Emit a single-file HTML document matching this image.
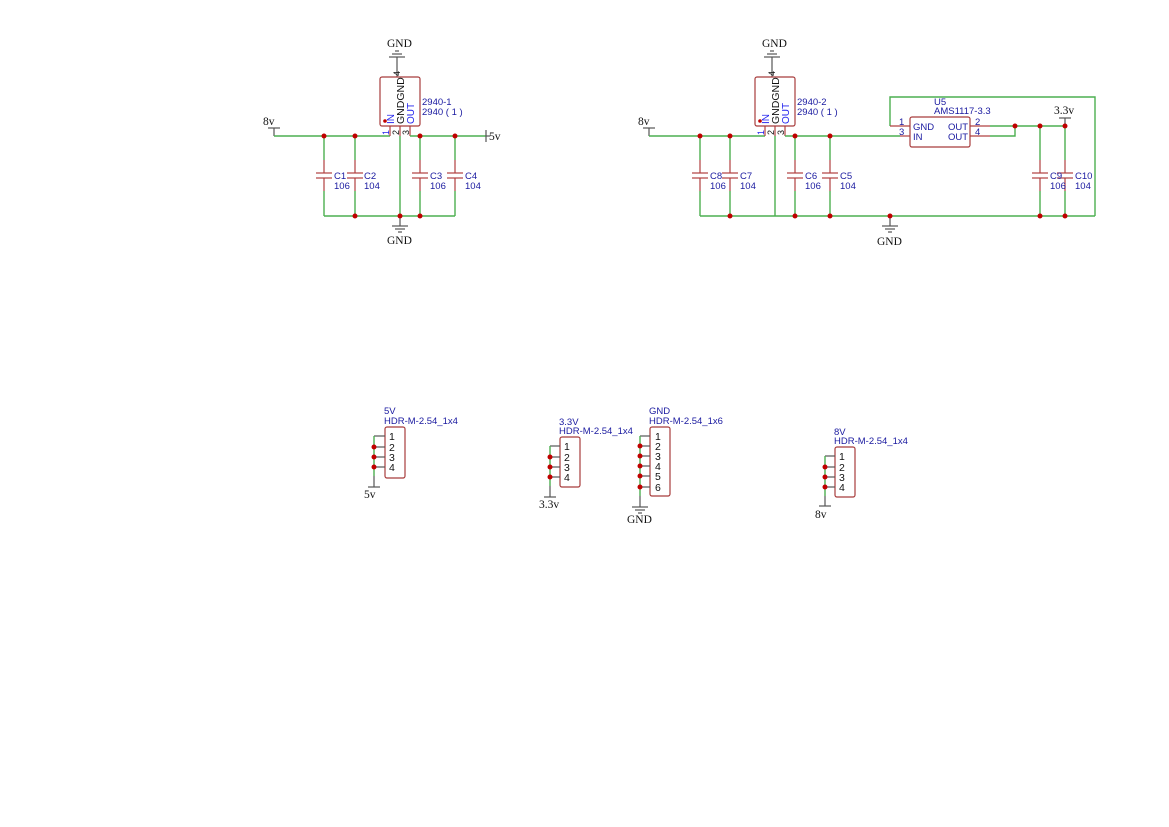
<!DOCTYPE html>
<html><head><meta charset="utf-8"><style>
html,body{margin:0;padding:0;background:#fff;}
svg{display:block}
.w{stroke:#4caf50;stroke-width:1.4;fill:none}
.r{stroke:#b04040;stroke-width:1.2;fill:none}
.k{stroke:#555;stroke-width:1.2;fill:none}
.box{stroke:#a83c3c;stroke-width:1.2;fill:#fff;rx:2}
.b{fill:#1a1aa0;font-family:"Liberation Sans",sans-serif;font-size:9.5px}
.bl{fill:#2222ee;font-family:"Liberation Sans",sans-serif;font-size:10px}
.t{fill:#111;font-family:"Liberation Serif",serif;font-size:11.5px}
.n{fill:#111;font-family:"Liberation Sans",sans-serif;font-size:10.5px}
.d{fill:#c00000}
</style></head><body>
<svg width="1169" height="827" viewBox="0 0 1169 827" xmlns="http://www.w3.org/2000/svg">
<defs>
<g id="cap">
<line class="w" x1="0" y1="136" x2="0" y2="160"/>
<line class="r" x1="0" y1="160" x2="0" y2="173"/>
<line class="r" x1="-8" y1="173" x2="8" y2="173"/>
<line class="r" x1="-8" y1="178" x2="8" y2="178"/>
<line class="r" x1="0" y1="178" x2="0" y2="191"/>
<line class="w" x1="0" y1="191" x2="0" y2="216"/>
</g>
<g id="gnd">
<line class="k" x1="-8" y1="0" x2="8" y2="0"/>
<line class="k" x1="-5" y1="3" x2="5" y2="3"/>
<line class="k" x1="-2" y1="6" x2="2" y2="6"/>
</g>
</defs>

<!-- ===== LEFT REGULATOR ===== -->
<text class="t" x="263" y="125">8v</text>
<line class="k" x1="268" y1="128" x2="280" y2="128"/>
<line class="k" x1="274" y1="128" x2="274" y2="136"/>
<polyline class="w" points="274,136 390,136"/>
<line class="r" x1="390" y1="126" x2="390" y2="136"/>
<line class="r" x1="400" y1="126" x2="400" y2="136"/>
<line class="w" x1="400" y1="136" x2="400" y2="216"/>
<line class="r" x1="410" y1="126" x2="410" y2="136"/>
<polyline class="w" points="410,136 486,136"/>
<line class="k" x1="486" y1="130" x2="486" y2="142"/>
<line class="k" x1="486" y1="136" x2="490" y2="136"/>
<text class="t" x="489" y="140">5v</text>
<line class="w" x1="324" y1="216" x2="455" y2="216"/>
<use href="#cap" x="324"/><use href="#cap" x="355"/><use href="#cap" x="420"/><use href="#cap" x="455"/>
<text class="b" x="334" y="179">C1</text><text class="b" x="334" y="189">106</text>
<text class="b" x="364" y="179">C2</text><text class="b" x="364" y="189">104</text>
<text class="b" x="430" y="179">C3</text><text class="b" x="430" y="189">106</text>
<text class="b" x="465" y="179">C4</text><text class="b" x="465" y="189">104</text>
<line class="k" x1="400" y1="216" x2="400" y2="226"/>
<use href="#gnd" x="400" y="226"/>
<text class="t" x="387" y="244">GND</text>
<text class="t" x="387" y="47">GND</text>
<g transform="translate(397,57) scale(1,-1)"><use href="#gnd"/></g>
<line class="k" x1="397" y1="57" x2="397" y2="77"/>
<rect class="box" x="380" y="77" width="40" height="49"/>
<circle class="d" cx="385" cy="121" r="1.8"/>
<text class="n" transform="translate(400,76) rotate(-90)" style="font-size:9px">4</text>
<text class="bl" transform="translate(394,124) rotate(-90)">IN</text>
<text class="n" transform="translate(404,124) rotate(-90)">GNDGND</text>
<text class="bl" transform="translate(414,124) rotate(-90)">OUT</text>
<text class="bl" transform="translate(389,135) rotate(-90)" style="font-size:9px">1</text>
<text class="n" transform="translate(399,135) rotate(-90)" style="font-size:9px">2</text>
<text class="n" transform="translate(409,135) rotate(-90)" style="font-size:9px">3</text>
<text class="b" x="422" y="105">2940-1</text>
<text class="b" x="422" y="115">2940 ( 1 )</text>
<g class="d"><circle cx="324" cy="136" r="2.5"/><circle cx="355" cy="136" r="2.5"/><circle cx="420" cy="136" r="2.5"/><circle cx="455" cy="136" r="2.5"/>
<circle cx="355" cy="216" r="2.5"/><circle cx="400" cy="216" r="2.5"/><circle cx="420" cy="216" r="2.5"/></g>

<!-- ===== RIGHT REGULATOR ===== -->
<text class="t" x="638" y="125">8v</text>
<line class="k" x1="643" y1="128" x2="655" y2="128"/>
<line class="k" x1="649" y1="128" x2="649" y2="136"/>
<polyline class="w" points="649,136 765,136"/>
<line class="r" x1="765" y1="126" x2="765" y2="136"/>
<line class="r" x1="775" y1="126" x2="775" y2="136"/>
<line class="w" x1="775" y1="136" x2="775" y2="216"/>
<line class="r" x1="785" y1="126" x2="785" y2="136"/>
<polyline class="w" points="785,136 900,136"/>
<line class="w" x1="700" y1="216" x2="1095" y2="216"/>
<use href="#cap" x="700"/><use href="#cap" x="730"/><use href="#cap" x="795"/><use href="#cap" x="830"/><use href="#cap" x="1040"/><use href="#cap" x="1065"/>
<line class="w" x1="1040" y1="126" x2="1040" y2="136"/>
<line class="w" x1="1065" y1="126" x2="1065" y2="136"/>
<text class="b" x="710" y="179">C8</text><text class="b" x="710" y="189">106</text>
<text class="b" x="740" y="179">C7</text><text class="b" x="740" y="189">104</text>
<text class="b" x="805" y="179">C6</text><text class="b" x="805" y="189">106</text>
<text class="b" x="840" y="179">C5</text><text class="b" x="840" y="189">104</text>
<text class="b" x="1050" y="179">C9</text><text class="b" x="1050" y="189">106</text>
<text class="b" x="1075" y="179">C10</text><text class="b" x="1075" y="189">104</text>
<line class="k" x1="890" y1="216" x2="890" y2="226"/>
<use href="#gnd" x="890" y="226"/>
<text class="t" x="877" y="245">GND</text>
<text class="t" x="762" y="47">GND</text>
<g transform="translate(772,57) scale(1,-1)"><use href="#gnd"/></g>
<line class="k" x1="772" y1="57" x2="772" y2="77"/>
<rect class="box" x="755" y="77" width="40" height="49"/>
<circle class="d" cx="760" cy="121" r="1.8"/>
<text class="n" transform="translate(775,76) rotate(-90)" style="font-size:9px">4</text>
<text class="bl" transform="translate(769,124) rotate(-90)">IN</text>
<text class="n" transform="translate(779,124) rotate(-90)">GNDGND</text>
<text class="bl" transform="translate(789,124) rotate(-90)">OUT</text>
<text class="bl" transform="translate(764,135) rotate(-90)" style="font-size:9px">1</text>
<text class="n" transform="translate(774,135) rotate(-90)" style="font-size:9px">2</text>
<text class="n" transform="translate(784,135) rotate(-90)" style="font-size:9px">3</text>
<text class="b" x="797" y="105">2940-2</text>
<text class="b" x="797" y="115">2940 ( 1 )</text>
<!-- U5 -->
<polyline class="w" points="890,126 890,97 1095,97 1095,216"/>
<line class="r" x1="890" y1="126" x2="910" y2="126"/>
<line class="r" x1="900" y1="136" x2="910" y2="136"/>
<line class="r" x1="970" y1="126" x2="990" y2="126"/>
<line class="r" x1="970" y1="136" x2="990" y2="136"/>
<polyline class="w" points="990,126 1065,126"/>
<polyline class="w" points="990,136 1015,136 1015,126"/>
<rect class="box" x="910" y="117" width="60" height="30"/>
<text class="b" x="934" y="105">U5</text>
<text class="b" x="934" y="114">AMS1117-3.3</text>
<text class="b" x="899" y="125">1</text><text class="b" x="899" y="135">3</text>
<text class="b" x="913" y="130">GND</text><text class="b" x="913" y="140">IN</text>
<text class="b" x="948" y="130">OUT</text><text class="b" x="948" y="140">OUT</text>
<text class="b" x="975" y="125">2</text><text class="b" x="975" y="135">4</text>
<text class="t" x="1054" y="114">3.3v</text>
<line class="k" x1="1059" y1="118" x2="1071" y2="118"/>
<line class="k" x1="1065" y1="118" x2="1065" y2="126"/>
<g class="d"><circle cx="700" cy="136" r="2.5"/><circle cx="730" cy="136" r="2.5"/><circle cx="795" cy="136" r="2.5"/><circle cx="830" cy="136" r="2.5"/>
<circle cx="1015" cy="126" r="2.5"/><circle cx="1040" cy="126" r="2.5"/><circle cx="1065" cy="126" r="2.5"/>
<circle cx="730" cy="216" r="2.5"/><circle cx="795" cy="216" r="2.5"/><circle cx="830" cy="216" r="2.5"/><circle cx="890" cy="216" r="2.5"/><circle cx="1040" cy="216" r="2.5"/><circle cx="1065" cy="216" r="2.5"/></g>

<!-- ===== HEADERS ===== -->
<text class="b" x="384" y="414">5V</text><text class="b" x="384" y="424">HDR-M-2.54_1x4</text>
<rect class="box" x="385" y="427" width="20" height="51"/>
<g class="k"><line x1="374" y1="436" x2="385" y2="436"/><line x1="374" y1="447" x2="385" y2="447"/><line x1="374" y1="457" x2="385" y2="457"/><line x1="374" y1="467" x2="385" y2="467"/></g>
<line class="w" x1="374" y1="436" x2="374" y2="476"/><line class="k" x1="374" y1="476" x2="374" y2="487"/>
<line class="k" x1="368" y1="487" x2="380" y2="487"/>
<text class="t" x="364" y="498">5v</text>
<g class="n"><text x="389" y="440">1</text><text x="389" y="451">2</text><text x="389" y="461">3</text><text x="389" y="471">4</text></g>
<g class="d"><circle cx="374" cy="447" r="2.5"/><circle cx="374" cy="457" r="2.5"/><circle cx="374" cy="467" r="2.5"/></g>

<text class="b" x="559" y="425">3.3V</text><text class="b" x="559" y="434">HDR-M-2.54_1x4</text>
<rect class="box" x="560" y="437" width="20" height="50"/>
<g class="k"><line x1="550" y1="446" x2="560" y2="446"/><line x1="550" y1="457" x2="560" y2="457"/><line x1="550" y1="467" x2="560" y2="467"/><line x1="550" y1="477" x2="560" y2="477"/></g>
<line class="w" x1="550" y1="446" x2="550" y2="486"/><line class="k" x1="550" y1="486" x2="550" y2="497"/>
<line class="k" x1="544" y1="497" x2="556" y2="497"/>
<text class="t" x="539" y="508">3.3v</text>
<g class="n"><text x="564" y="450">1</text><text x="564" y="461">2</text><text x="564" y="471">3</text><text x="564" y="481">4</text></g>
<g class="d"><circle cx="550" cy="457" r="2.5"/><circle cx="550" cy="467" r="2.5"/><circle cx="550" cy="477" r="2.5"/></g>

<text class="b" x="649" y="414">GND</text><text class="b" x="649" y="424">HDR-M-2.54_1x6</text>
<rect class="box" x="650" y="427" width="20" height="69"/>
<g class="k"><line x1="640" y1="436" x2="650" y2="436"/><line x1="640" y1="446" x2="650" y2="446"/><line x1="640" y1="456" x2="650" y2="456"/><line x1="640" y1="466" x2="650" y2="466"/><line x1="640" y1="476" x2="650" y2="476"/><line x1="640" y1="487" x2="650" y2="487"/></g>
<line class="w" x1="640" y1="436" x2="640" y2="496"/><line class="k" x1="640" y1="496" x2="640" y2="507"/>
<use href="#gnd" x="640" y="507"/>
<text class="t" x="627" y="523">GND</text>
<g class="n"><text x="655" y="440">1</text><text x="655" y="450">2</text><text x="655" y="460">3</text><text x="655" y="470">4</text><text x="655" y="480">5</text><text x="655" y="491">6</text></g>
<g class="d"><circle cx="640" cy="446" r="2.5"/><circle cx="640" cy="456" r="2.5"/><circle cx="640" cy="466" r="2.5"/><circle cx="640" cy="476" r="2.5"/><circle cx="640" cy="487" r="2.5"/></g>

<text class="b" x="834" y="435">8V</text><text class="b" x="834" y="444">HDR-M-2.54_1x4</text>
<rect class="box" x="835" y="447" width="20" height="50"/>
<g class="k"><line x1="825" y1="456" x2="835" y2="456"/><line x1="825" y1="467" x2="835" y2="467"/><line x1="825" y1="477" x2="835" y2="477"/><line x1="825" y1="487" x2="835" y2="487"/></g>
<line class="w" x1="825" y1="456" x2="825" y2="496"/><line class="k" x1="825" y1="496" x2="825" y2="506"/>
<line class="k" x1="819" y1="506" x2="831" y2="506"/>
<text class="t" x="815" y="518">8v</text>
<g class="n"><text x="839" y="460">1</text><text x="839" y="471">2</text><text x="839" y="481">3</text><text x="839" y="491">4</text></g>
<g class="d"><circle cx="825" cy="467" r="2.5"/><circle cx="825" cy="477" r="2.5"/><circle cx="825" cy="487" r="2.5"/></g>
</svg>
</body></html>
